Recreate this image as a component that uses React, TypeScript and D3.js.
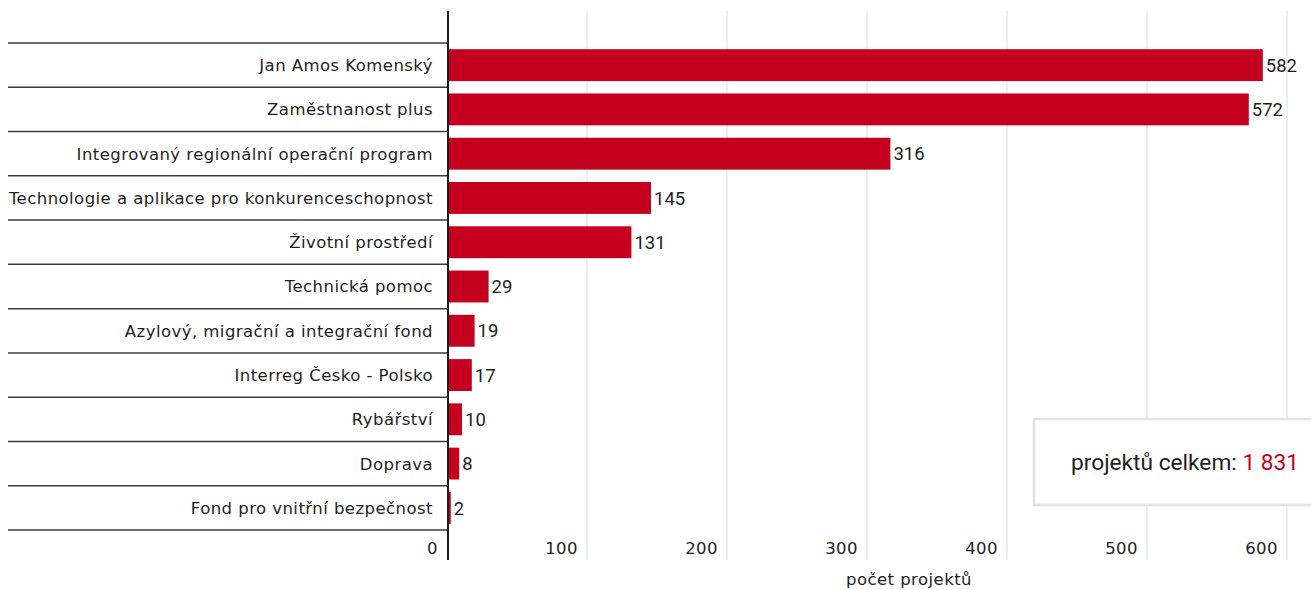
import React from "react";
import * as d3 from "d3";

const categories = [
  "Jan Amos Komenský",
  "Zaměstnanost plus",
  "Integrovaný regionální operační program",
  "Technologie a aplikace pro konkurenceschopnost",
  "Životní prostředí",
  "Technická pomoc",
  "Azylový, migrační a integrační fond",
  "Interreg Česko - Polsko",
  "Rybářství",
  "Doprava",
  "Fond pro vnitřní bezpečnost",
];
const values = [582, 572, 316, 145, 131, 29, 19, 17, 10, 8, 2];
const xTicks = [0, 100, 200, 300, 400, 500, 600];
const axisTitle = "počet projektů";
const totalLabel = "projektů celkem: ";
const totalValue = "1 831";

const W = 1311;
const H = 590;
const LABEL_FONT = "'DejaVu Sans', sans-serif";
const LABEL_SIZE = 16.5;
const LABEL_LS = 0.45;
const NUM_FONT = "Roboto, sans-serif";
const RED = "#c4001e";

export default function App() {
  const x = d3.scaleLinear().domain([0, 600]).range([448, 1288]);
  const y = d3
    .scaleBand<string>()
    .domain(categories)
    .range([43, 530])
    .paddingInner(0.28)
    .paddingOuter(0.14);
  const step = y.step();
  const sepYs = d3.range(categories.length + 1).map((i) => 43 + i * step);

  return (
    <svg
      width={W}
      height={H}
      style={{ position: "absolute", left: 0, top: 0, background: "#fff" }}
    >
      {xTicks.slice(1).map((t) => (
        <line
          key={"g" + t}
          x1={x(t) - 1}
          x2={x(t) - 1}
          y1={11}
          y2={560}
          stroke="#e8e8e8"
          strokeWidth={1.5}
        />
      ))}
      {sepYs.map((sy, i) => (
        <line
          key={"s" + i}
          x1={8}
          x2={448}
          y1={sy}
          y2={sy}
          stroke="#3c3c3c"
          strokeWidth={1.5}
        />
      ))}
      {categories.map((c, i) => (
        <rect
          key={"b" + c}
          x={x(0)}
          y={y(c)}
          width={x(values[i]) - x(0)}
          height={y.bandwidth()}
          fill={RED}
        />
      ))}
      {categories.map((c, i) => (
        <text
          key={"v" + c}
          x={x(values[i]) + 3}
          y={(y(c) as number) + y.bandwidth() / 2}
          dy="0.36em"
          fontFamily={NUM_FONT}
          fontSize={18.5}
          fill="#1e1e1e"
        >
          {values[i]}
        </text>
      ))}
      {categories.map((c) => (
        <text
          key={"l" + c}
          x={433}
          y={(y(c) as number) + y.bandwidth() / 2}
          dy="0.36em"
          textAnchor="end"
          fontFamily={LABEL_FONT}
          fontSize={LABEL_SIZE}
          letterSpacing={LABEL_LS}
          fill="#1e1e1e"
        >
          {c}
        </text>
      ))}
      <line x1={448} x2={448} y1={11} y2={560} stroke="#1a1a1a" strokeWidth={2} />
      {xTicks.map((t) => (
        <text
          key={"t" + t}
          x={x(t) - 10}
          y={554}
          textAnchor="end"
          fontFamily={LABEL_FONT}
          fontSize={LABEL_SIZE}
          letterSpacing={LABEL_LS}
          fill="#1e1e1e"
        >
          {t}
        </text>
      ))}
      <text
        x={909}
        y={585}
        textAnchor="middle"
        fontFamily={LABEL_FONT}
        fontSize={LABEL_SIZE}
        letterSpacing={LABEL_LS}
        fill="#1e1e1e"
      >
        {axisTitle}
      </text>
      <rect
        x={1034}
        y={419}
        width={300}
        height={86}
        fill="#fff"
        stroke="#e3e3e3"
        strokeWidth={2.5}
      />
      <text x={1071} y={470} fontFamily={NUM_FONT} fontSize={22.7} fill="#1e1e1e">
        {totalLabel}
        <tspan fill={RED}>{totalValue}</tspan>
      </text>
    </svg>
  );
}
